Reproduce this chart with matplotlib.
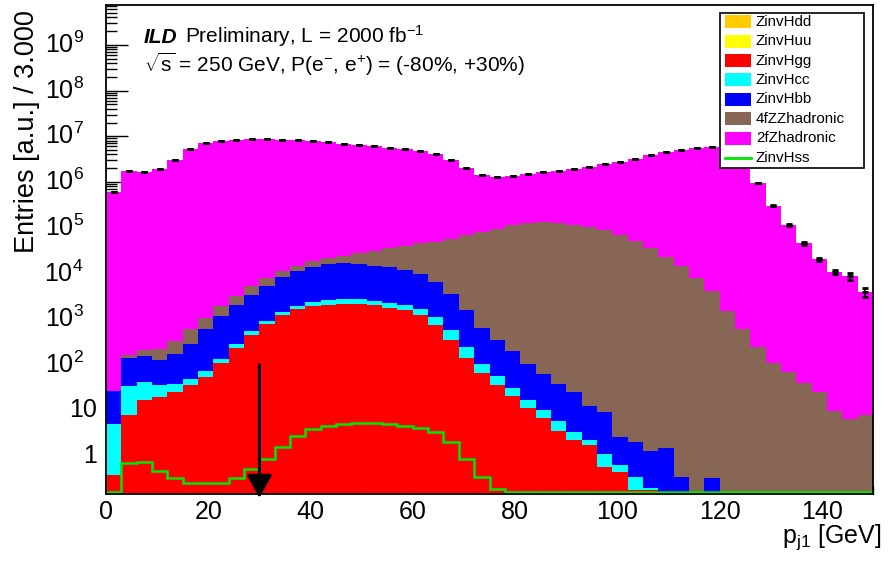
import numpy as np
import matplotlib
matplotlib.use("Agg")
import matplotlib.pyplot as plt
from matplotlib.patches import Rectangle
from matplotlib.lines import Line2D
from matplotlib.ticker import FixedLocator, LogLocator, NullFormatter

plt.rcParams["font.family"] = ["Liberation Sans", "DejaVu Sans"]
plt.rcParams["mathtext.fontset"] = "custom"
plt.rcParams["mathtext.rm"] = "Liberation Sans"
plt.rcParams["mathtext.it"] = "Liberation Sans:italic"
plt.rcParams["mathtext.bf"] = "Liberation Sans:bold"

# 3 GeV bins from 0 to 150 GeV
edges = np.arange(0, 151, 3)

# entries per bin
zinvhgg = [0.39, 7.8, 16.6, 19.5, 25, 36, 54, 110, 234, 447,
           794, 1200, 1620, 1900, 2000, 2090, 2090, 2000, 1780, 1550,
           1200, 733, 355, 143, 66, 36, 21, 11.5, 6.9, 3.6,
           2.2, 1.7, 0.57, 0.45, 0.18, 0.18, 0, 0, 0, 0,
           0, 0, 0, 0, 0, 0, 0, 0, 0, 0]
zinvhcc = [4.5, 26, 25, 16, 13.5, 13.5, 18, 25, 48, 90,
           118, 213, 350, 444, 570, 600, 600, 512, 511, 445,
           460, 389, 214, 102, 39, 19.6, 9.9, 5.7, 3.45, 2.2,
           1.15, 0.59, 0.51, 0.2, 0.17, 0.02, 0, 0, 0, 0,
           0, 0, 0, 0, 0, 0, 0, 0, 0, 0]
zinvhbb = [21.4, 109, 110, 93, 135, 239, 517, 1013, 1713, 2774,
           4336, 6715, 9380, 11450, 13100, 13710, 13160, 12280, 11510, 9755,
           7890, 5335, 2898, 1304, 541, 287, 164, 85, 51, 32.7,
           21.8, 10, 8.1, 1.95, 1.67, 1.09, 1.5, 0.355, 0, 0.33,
           0, 0, 0, 0, 0, 0, 0, 0, 0, 0]
zz4f = [0, 19, 56, 90, 150, 301, 483, 757, 1241, 1937,
        2514, 3092, 3440, 4820, 5460, 7870, 11380, 16110, 21280, 27610,
        35640, 42520, 54070, 67630, 80630, 94060, 113300, 124400, 130200, 124460,
        113500, 101200, 89120, 69980, 50700, 35080, 22390, 14450, 7940, 4070,
        1510, 596, 245, 111, 69, 40, 25, 9.7, 6.6, 8.0]
z2f = [6.17e5, 1.74e6, 1.62e6, 1.93e6, 3.02e6, 5.25e6, 7.16e6, 7.94e6, 8.32e6, 8.51e6,
       8.51e6, 8.32e6, 8.32e6, 7.94e6, 7.50e6, 6.92e6, 6.46e6, 5.96e6, 5.56e6, 5.13e6,
       4.62e6, 3.98e6, 3.02e6, 1.95e6, 1.33e6, 1.19e6, 1.24e6, 1.355e6, 1.49e6, 1.61e6,
       1.81e6, 2.06e6, 2.34e6, 2.68e6, 3.11e6, 3.81e6, 4.45e6, 5.12e6, 5.56e6, 5.96e6,
       6.0e6, 3.5e6, 9.66e5, 3.02e5, 1.12e5, 45150, 20150, 10710, 8700, 3928]
zinvhss = [0, 0.70, 0.72, 0.47, 0.33, 0.26, 0.26, 0.26, 0.335, 0.51,
           0.85, 1.55, 2.69, 3.89, 4.52, 5.01, 5.25, 5.25, 4.9, 4.57,
           4.03, 3.35, 2.02, 0.87, 0.355, 0.19, 0, 0, 0, 0,
           0, 0, 0, 0, 0, 0, 0, 0, 0, 0,
           0, 0, 0, 0, 0, 0, 0, 0, 0, 0]
# relative stat. error on the total for the last bins (the rest are tiny)
tail_relerr = [0.03, 0.05, 0.07, 0.09, 0.12, 0.16, 0.23]

stack_names = ["ZinvHgg", "ZinvHcc", "ZinvHbb", "4fZZhadronic", "2fZhadronic"]
stack_values = [zinvhgg, zinvhcc, zinvhbb, zz4f, z2f]
stack_colors = ["#ff0000", "#00ffff", "#0000ff", "#876655", "#ff00ff"]

legend_names = ["ZinvHdd", "ZinvHuu", "ZinvHgg", "ZinvHcc", "ZinvHbb",
                "4fZZhadronic", "2fZhadronic", "ZinvHss"]
legend_colors = ["#ffcc00", "#ffff00", "#ff0000", "#00ffff", "#0000ff",
                 "#876655", "#ff00ff", "#00e600"]

cut_value = 30.0
ymin, ymax = 0.147, 7.5e9

W, H = 891, 564
fig = plt.figure(figsize=(W / 100, H / 100), dpi=100)
ax = fig.add_axes([106 / W, 1 - 494 / H, 767 / W, 489 / H])
ax.set_yscale("log")
ax.set_xlim(0, 150)
ax.set_ylim(ymin, ymax)
ax.set_axisbelow(True)

floor = 1e-3
cum = np.cumsum(np.array(stack_values, dtype=float), axis=0)
for top, col in reversed(list(zip(cum, stack_colors))):
    ax.stairs(np.clip(top, floor, None), edges, baseline=floor, fill=True,
              color=col, lw=0, zorder=2)

# total with stat errors
total = cum[-1]
centers = 0.5 * (edges[:-1] + edges[1:])
err = np.zeros_like(total)
err[-len(tail_relerr):] = total[-len(tail_relerr):] * np.array(tail_relerr)
ax.errorbar(centers, total, yerr=err, fmt="_", color="black", ms=5,
            mew=2.0, elinewidth=1.2, capsize=2.5, capthick=1.2, zorder=4)

# ZinvHss drawn as line (not stacked); empty bins sit on the axis floor
ax.stairs(np.clip(zinvhss, ymin * 1.09, None), edges, baseline=None,
          color="#00e600", lw=1.8, zorder=3)

# cut arrow
ax.annotate("", xy=(cut_value, -0.008), xycoords=("data", "axes fraction"),
            xytext=(cut_value, 100), textcoords="data",
            arrowprops=dict(arrowstyle="-|>,head_length=1.0,head_width=0.55",
                            mutation_scale=14, lw=2.2, color="black",
                            shrinkA=0, shrinkB=0),
            annotation_clip=False, zorder=5)

# axes styling
for s in ax.spines.values():
    s.set_linewidth(1.3)
    s.set_zorder(6)
ax.xaxis.set_major_locator(FixedLocator(np.arange(0, 141, 20)))
ax.xaxis.set_minor_locator(FixedLocator(np.arange(0, 151, 5)))
ax.yaxis.set_major_locator(LogLocator(base=10, numticks=20))
ax.yaxis.set_minor_locator(LogLocator(base=10, subs=np.arange(2, 10), numticks=200))
ax.yaxis.set_major_formatter(NullFormatter())
ax.yaxis.set_minor_formatter(NullFormatter())
ax.tick_params(axis="both", which="both", direction="in", top=False, right=False)
ax.tick_params(axis="y", which="major", length=16, width=1)
ax.tick_params(axis="y", which="minor", length=8, width=1)
ax.tick_params(axis="x", which="major", length=12, width=1, labelsize=18, pad=4)
ax.tick_params(axis="x", which="minor", length=6, width=1)

# y tick labels, ROOT style
ytr = ax.get_yaxis_transform()
for n in range(0, 10):
    if n == 0:
        ax.text(-0.012, 1, "1", transform=ytr, ha="right", va="center", fontsize=18)
    elif n == 1:
        ax.text(-0.012, 10, "10", transform=ytr, ha="right", va="center", fontsize=18)
    else:
        ax.text(-0.029, 10.0 ** n, r"$10^{%d}$" % n, transform=ytr,
                ha="right", va="center", fontsize=18)

# axis titles
fig.text(882 / W, 1 - 543 / H, r"p$_{\mathrm{j1}}$ [GeV]", ha="right",
         va="baseline", fontsize=18)
fig.text(27 / W, 1 - 10 / H, "Entries [a.u.] / 3.000", rotation=90,
         ha="center", va="top", fontsize=19.5)

# labels on the plot
fig.text(144 / W, 1 - 43 / H, "ILD", fontsize=15, fontweight="bold",
         fontstyle="italic", va="baseline")
fig.text(185 / W, 1 - 43 / H, r"Preliminary, L = 2000 fb$^{-1}$", fontsize=15,
         va="baseline")
fig.text(144 / W, 1 - 72 / H,
         r"$\sqrt{\mathrm{s}}$ = 250 GeV, P(e$^{-}$, e$^{+}$) = (-80%, +30%)",
         fontsize=15, va="baseline")

# legend box (ROOT TLegend look)
lx0, ly0, lx1, ly1 = 720, 12.7, 864, 168.3
fig.patches.append(Rectangle((lx0 / W, 1 - ly1 / H), (lx1 - lx0) / W,
                             (ly1 - ly0) / H, transform=fig.transFigure,
                             facecolor="white", edgecolor="black", lw=1.2,
                             zorder=10))
for i, (name, col) in enumerate(zip(legend_names, legend_colors)):
    yc = 21.7 + i * 19.4
    if name == "ZinvHss":
        fig.lines.append(Line2D([725 / W, 751 / W], [1 - yc / H, 1 - yc / H],
                                transform=fig.transFigure, color=col, lw=2,
                                zorder=11))
    else:
        fig.patches.append(Rectangle((725 / W, 1 - (yc + 6.5) / H), 26 / W, 13 / H,
                                     transform=fig.transFigure, facecolor=col,
                                     edgecolor="none", zorder=11))
    fig.text(756 / W, 1 - yc / H, name, fontsize=10.9, va="center", zorder=12)

fig.savefig("out.png", dpi=100)
